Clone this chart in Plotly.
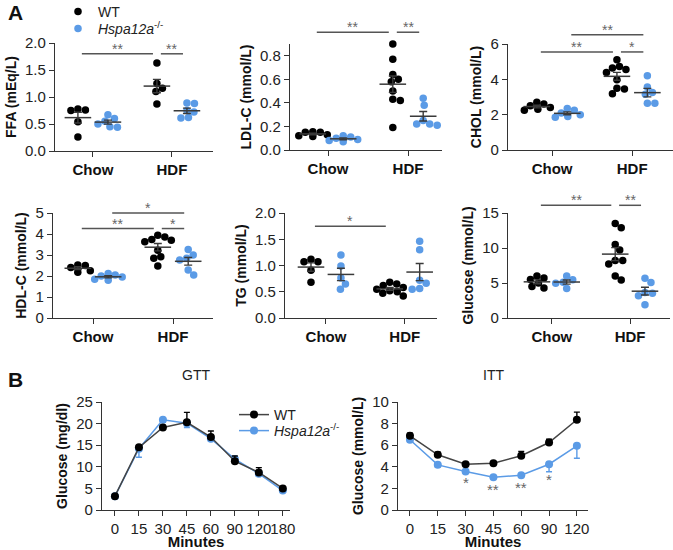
import numpy as np
import plotly.graph_objects as go

W, H = 673, 550
BLUE = "#5b9be6"
BLACK = "#000000"
AXC = "#333333"
MEANC = "#3a3a3a"
FONT = "Liberation Sans, Arial, sans-serif"

# ---- panel A data (per group values) ----
categories = ["Chow", "HDF"]

ffa_wt_chow = [0.78, 0.76, 0.75, 0.54, 0.26]
ffa_ko_chow = [0.67, 0.60, 0.55, 0.50, 0.45, 0.44]
ffa_wt_hdf = [1.63, 1.25, 1.16, 1.10, 0.87]
ffa_ko_hdf = [0.89, 0.88, 0.75, 0.72, 0.62, 0.61]

ldl_wt_chow = [0.155, 0.15, 0.15, 0.13, 0.12, 0.115]
ldl_ko_chow = [0.12, 0.11, 0.10, 0.09, 0.08, 0.07]
ldl_wt_hdf = [0.90, 0.77, 0.64, 0.60, 0.58, 0.50, 0.43, 0.42, 0.19]
ldl_ko_hdf = [0.44, 0.38, 0.25, 0.22, 0.22, 0.21]

chol_wt_chow = [2.70, 2.60, 2.50, 2.40, 2.30, 2.25]
chol_ko_chow = [2.35, 2.25, 2.10, 2.00, 1.90, 1.85]
chol_wt_hdf = [5.11, 4.73, 4.64, 4.55, 4.39, 3.98, 3.50, 3.45, 3.18]
chol_ko_hdf = [4.20, 3.56, 3.26, 3.16, 2.65, 2.65]

hdl_wt_chow = [2.52, 2.50, 2.40, 2.25, 2.18]
hdl_ko_chow = [2.12, 2.05, 2.00, 1.95, 1.85, 1.80]
hdl_wt_hdf = [3.94, 3.86, 3.74, 3.70, 3.63, 3.23, 2.92, 2.84, 2.48]
hdl_ko_hdf = [3.26, 3.00, 2.84, 2.76, 2.29, 2.05]

tg_wt_chow = [1.12, 1.07, 1.07, 0.91, 0.68]
tg_ko_chow = [1.20, 0.99, 0.76, 0.65, 0.55]
tg_wt_hdf = [0.68, 0.65, 0.62, 0.58, 0.55, 0.52, 0.50, 0.47, 0.42]
tg_ko_hdf = [1.46, 1.30, 0.72, 0.66, 0.56, 0.55]

glu_wt_chow = [6.0, 5.7, 5.5, 5.0, 4.5, 4.3]
glu_ko_chow = [6.0, 5.45, 5.1, 4.95, 4.2]
glu_wt_hdf = [13.5, 12.9, 10.5, 9.7, 8.2, 8.2, 7.7, 6.0, 5.44]
glu_ko_hdf = [5.68, 5.06, 3.64, 3.55, 3.17, 1.89]

# significance: (group a, group b, height, label); groups 0 WT-Chow, 1 KO-Chow, 2 WT-HDF, 3 KO-HDF
ffa_sig = [(0, 2, 1.80, "**"), (2, 3, 1.80, "**")]
ldl_sig = [(0, 2, 1.0, "**"), (2, 3, 1.0, "**")]
chol_sig = [(1, 3, 6.53, "**"), (0, 2, 5.55, "**"), (2, 3, 5.55, "*")]
hdl_sig = [(1, 3, 5.0, "*"), (0, 2, 4.26, "**"), (2, 3, 4.26, "*")]
tg_sig = [(0, 2, 1.75, "*")]
glu_sig = [(0, 2, 16.1, "**"), (2, 3, 16.1, "**")]

# ---- panel B data ----
gtt_minutes = ["0", "15", "30", "45", "60", "90", "120", "180"]
gtt_wt = [3.2, 14.5, 19.1, 20.3, 16.9, 11.3, 8.7, 5.0]
gtt_wt_err = [0.3, 0.4, 0.5, 2.3, 1.4, 1.2, 1.1, 0.4]
gtt_ko = [3.2, 14.2, 20.9, 20.1, 16.5, 11.8, 8.4, 4.5]
gtt_ko_err = [0.3, 2.0, 0.6, 1.0, 0.5, 0.5, 0.6, 0.4]

itt_minutes = ["0", "15", "30", "45", "60", "90", "120"]
itt_wt = [6.87, 5.11, 4.24, 4.33, 5.02, 6.25, 8.36]
itt_wt_err = [0.25, 0.25, 0.1, 0.1, 0.4, 0.3, 0.7]
itt_ko = [6.5, 4.18, 3.56, 3.03, 3.22, 4.24, 5.94]
itt_ko_err = [0.2, 0.2, 0.15, 0.1, 0.1, 0.7, 1.15]
itt_stars = ["", "", "*", "**", "**", "*", ""]
itt_star_y = [None, None, 2.8, 2.17, 2.4, 3.1, None]

KO_NAME = "<i>Hspa12a</i><sup>-/-</sup>"

# panel layout in pixels: left, right, top, bottom, x range, y range, ticks, ytitle
scatter_panels = [
    ("FFA (mEq/L)", (55, 213, 43, 151), [-0.48, 1.52], [0, 2], np.arange(0, 2.01, 0.5), ".1f",
     [ffa_wt_chow, ffa_ko_chow, ffa_wt_hdf, ffa_ko_hdf], ffa_sig),
    ("LDL-C (mmol/L)", (290, 442, 44, 150), [-0.475, 1.425], [0, 0.9], np.arange(0, 0.81, 0.2), ".1f",
     [ldl_wt_chow, ldl_ko_chow, ldl_wt_hdf, ldl_ko_hdf], ldl_sig),
    ("CHOL (mmol/L)", (508, 673, 44, 150), [-0.55, 1.51], [0, 6], np.arange(0, 6.1, 2), "d",
     [chol_wt_chow, chol_ko_chow, chol_wt_hdf, chol_ko_hdf], chol_sig),
    ("HDL-C (mmol/L)", (53, 213, 213, 318), [-0.5, 1.5], [0, 5], np.arange(0, 5.1, 1), "d",
     [hdl_wt_chow, hdl_ko_chow, hdl_wt_hdf, hdl_ko_hdf], hdl_sig),
    ("TG (mmol/L)", (285, 437, 213, 318), [-0.52, 1.41], [0, 2], np.arange(0, 2.01, 0.5), ".1f",
     [tg_wt_chow, tg_ko_chow, tg_wt_hdf, tg_ko_hdf], tg_sig),
    ("Glucose (mmol/L)", (508, 670, 213, 318), [-0.56, 1.51], [0, 15], np.arange(0, 15.1, 5), "d",
     [glu_wt_chow, glu_ko_chow, glu_wt_hdf, glu_ko_hdf], glu_sig),
]

GROUP_POS = [(0, -0.19), (0, 0.19), (1, -0.19), (1, 0.19)]
GROUP_COL = [BLACK, BLUE, BLACK, BLUE]
DOT = 7.5


def swarm(vals, ypx, xpx):
    # simple beeswarm: place points from top down, nudging sideways to avoid overlap
    vals = np.asarray(vals, dtype=float)
    order = np.argsort(-vals)
    placed = []
    offs = np.zeros(len(vals))
    cands = [0.0]
    for k in range(1, 40):
        cands += [k * 0.5, -k * 0.5]
    for i in order:
        y = vals[i] * ypx
        for c in cands:
            if all((c - px) ** 2 + (y - py) ** 2 >= (DOT * 0.95) ** 2 for px, py in placed):
                placed.append((c, y))
                offs[i] = c / xpx
                break
    return offs


def fx(px):
    return px / W


def fy(px):
    return 1 - px / H


axis_common = dict(showline=True, linecolor=AXC, linewidth=1.3, ticks="outside", ticklen=5,
                   tickwidth=1.3, tickcolor=AXC, showgrid=False, zeroline=False, automargin=False)

fig = go.Figure()
layout = {}

for n, (ytitle, (l, r, t, b), xr, yr, tv, fmt, groups, sigs) in enumerate(scatter_panels, start=1):
    xa, ya = ("x%d" % n if n > 1 else "x"), ("y%d" % n if n > 1 else "y")
    ypx = (b - t) / (yr[1] - yr[0])
    xpx = (r - l) / (xr[1] - xr[0])
    for g, vals in enumerate(groups):
        cat, off = GROUP_POS[g]
        xs = cat + off + swarm(vals, ypx, xpx)
        legend = None
        show = False
        if n == 1 and g in (0, 1):
            show = True
            legend = "legend" if g == 0 else "legend2"
        fig.add_trace(go.Scatter(
            x=xs, y=vals, mode="markers", xaxis=xa, yaxis=ya, cliponaxis=False,
            marker=dict(color=GROUP_COL[g], size=DOT, line=dict(width=0)),
            name="WT" if g % 2 == 0 else KO_NAME, showlegend=show,
            legend=legend, hoverinfo="y",
        ))
    for g, vals in enumerate(groups):
        cat, off = GROUP_POS[g]
        v = np.asarray(vals)
        sem = v.std(ddof=1) / np.sqrt(len(v))
        fig.add_trace(go.Scatter(
            x=[cat + off], y=[v.mean()], mode="markers", xaxis=xa, yaxis=ya,
            marker=dict(symbol="line-ew-open", size=19, color=MEANC, line=dict(color=MEANC, width=1.5)),
            error_y=dict(type="data", array=[sem], color=MEANC, thickness=1.4, width=4),
            showlegend=False, hoverinfo="skip",
        ))
    for ga, gb, h, lab in sigs:
        x0 = sum(GROUP_POS[ga]) + 0.05
        x1 = sum(GROUP_POS[gb]) - 0.05
        yd = (h - yr[0]) / (yr[1] - yr[0])
        fig.add_shape(type="line", xref=xa, yref=ya + " domain", x0=x0, x1=x1, y0=yd, y1=yd,
                      line=dict(color="#555555", width=1.5))
        fig.add_annotation(xref=xa, yref=ya + " domain", x=(x0 + x1) / 2, y=yd, text=lab,
                           showarrow=False, yanchor="bottom", yshift=-5,
                           font=dict(size=14, color="#666666", family=FONT))

    layout["xaxis" + (str(n) if n > 1 else "")] = dict(
        axis_common, domain=[fx(l), min(fx(r), 1)], range=xr, anchor=ya,
        tickvals=[0, 1], ticktext=categories,
        tickfont=dict(size=15, family=FONT, color="#111", weight="bold"),
    )
    layout["yaxis" + (str(n) if n > 1 else "")] = dict(
        axis_common, domain=[fy(b), fy(t)], range=yr, anchor=xa,
        tickvals=tv, tickformat=fmt,
        tickfont=dict(size=15, family=FONT, color="#222"),
        title=dict(text=ytitle, standoff=5, font=dict(size=14, family=FONT, color="#111", weight="bold")),
    )

# ---- GTT / ITT line panels ----
line_panels = [
    (7, "GTT", "Glucose (mg/dl)", (102, 290, 402, 510), [-0.54, 7.3], [0, 25], 5,
     gtt_minutes, gtt_wt, gtt_wt_err, gtt_ko, gtt_ko_err),
    (8, "ITT", "Glucose (mmol/L)", (398, 588, 402, 510), [-0.43, 6.4], [0, 10], 2,
     itt_minutes, itt_wt, itt_wt_err, itt_ko, itt_ko_err),
]

for n, ttl, ytitle, (l, r, t, b), xr, yr, dt, mins, wt, wte, ko, koe in line_panels:
    xa, ya = "x%d" % n, "y%d" % n
    fig.add_trace(go.Scatter(
        x=mins, y=ko, mode="lines+markers", xaxis=xa, yaxis=ya, name=KO_NAME,
        line=dict(color=BLUE, width=1.5), marker=dict(color=BLUE, size=8),
        error_y=dict(type="data", symmetric=False, array=[0] * len(koe), arrayminus=koe,
                     color=BLUE, thickness=1.4, width=3),
        showlegend=(n == 7), legend="legend4",
    ))
    fig.add_trace(go.Scatter(
        x=mins, y=wt, mode="lines+markers", xaxis=xa, yaxis=ya, name="WT",
        line=dict(color="#444444", width=1.5), marker=dict(color=BLACK, size=8),
        error_y=dict(type="data", symmetric=False, array=wte, arrayminus=[0] * len(wte),
                     color=BLACK, thickness=1.4, width=3),
        showlegend=(n == 7), legend="legend3",
    ))
    layout["xaxis%d" % n] = dict(
        axis_common, domain=[fx(l), fx(r)], range=xr, anchor=ya, type="category", tickangle=0,
        tickfont=dict(size=15, family=FONT, color="#222"),
        title=dict(text="Minutes", standoff=3, font=dict(size=15, family=FONT, color="#111", weight="bold")),
    )
    layout["yaxis%d" % n] = dict(
        axis_common, domain=[fy(b), fy(t)], range=yr, anchor=xa, dtick=dt,
        tickfont=dict(size=15, family=FONT, color="#222"),
        title=dict(text=ytitle, standoff=5, font=dict(size=14, family=FONT, color="#111", weight="bold")),
    )
    fig.add_annotation(xref=xa + " domain", yref="paper", x=0.5, y=fy(375), text=ttl,
                       showarrow=False, yanchor="middle",
                       font=dict(size=14, family=FONT, color="#222"))

for i, (s, yv) in enumerate(zip(itt_stars, itt_star_y)):
    if s:
        fig.add_annotation(xref="x8", yref="y8", x=i, y=yv, text=s, showarrow=False,
                           yanchor="middle", yshift=-3,
                           font=dict(size=15, family=FONT, color="#666666"))

# panel letters
for letter, ypos in (("A", 12), ("B", 379)):
    fig.add_annotation(xref="paper", yref="paper", x=fx(6), y=fy(ypos), text=letter,
                       showarrow=False, xanchor="left", yanchor="middle",
                       font=dict(size=21, family=FONT, color="#111", weight="bold"))

leg = dict(bgcolor="rgba(0,0,0,0)", font=dict(size=14, family=FONT, color="#222"),
           xanchor="left", yanchor="middle", itemclick=False, tracegroupgap=0)
layout["legend"] = dict(leg, x=fx(58), y=fy(12))
layout["legend2"] = dict(leg, x=fx(58), y=fy(29))
layout["legend3"] = dict(leg, x=fx(234), y=fy(415))
layout["legend4"] = dict(leg, x=fx(234), y=fy(431))

fig.update_layout(
    width=W, height=H, margin=dict(l=0, r=0, t=0, b=0, autoexpand=False),
    plot_bgcolor="white", paper_bgcolor="white",
    font=dict(family=FONT, color="#222"), showlegend=True,
    **layout,
)

# drop the default 8px page margin so the figure sits at the window corner
fig.write_html("out.html", config={"displayModeBar": False},
               post_script="document.body.style.margin='0';")
